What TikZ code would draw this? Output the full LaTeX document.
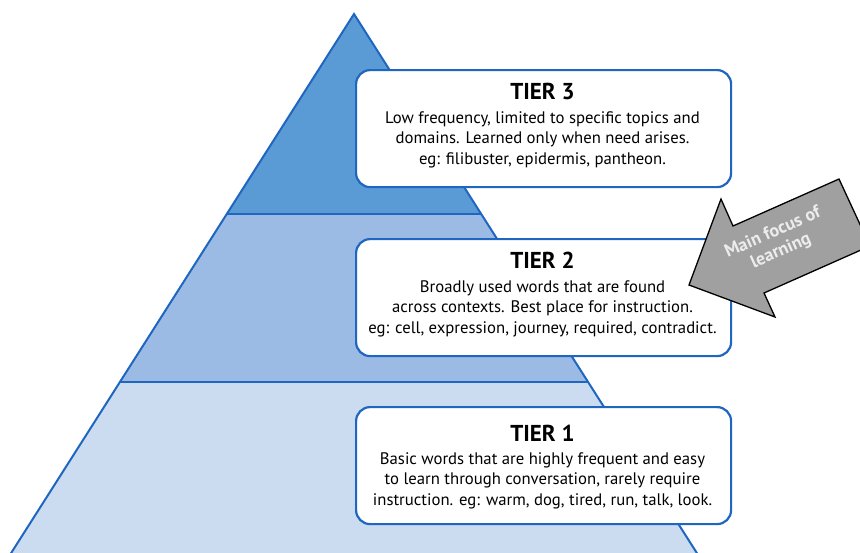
\documentclass[tikz,border=0pt]{standalone}
\usepackage{fontspec}
\setmainfont{PT Sans}
\definecolor{edge}{RGB}{31,102,192}
\definecolor{tierA}{RGB}{91,155,213}
\definecolor{tierB}{RGB}{155,187,228}
\definecolor{tierC}{RGB}{203,219,240}
\definecolor{arrowgray}{RGB}{160,160,160}
\definecolor{arrowtext}{RGB}{236,236,236}
\begin{document}
\begin{tikzpicture}[x=1pt,y=-1pt,
  tierbox/.style={draw=edge, line width=2.2pt, fill=white, rounded corners=14pt,
    minimum width=375pt, minimum height=117pt, anchor=north west, inner sep=0pt},
  tiertitle/.style={anchor=base, inner sep=0pt, font=\fontsize{23}{23}\selectfont\bfseries},
  tiertext/.style={anchor=base, align=center, inner sep=0pt, font=\fontsize{16.7}{20.5}\selectfont},
  outline/.style={draw=edge, line width=2pt}
]
\useasboundingbox (0,0) rectangle (860,552);
\clip (0,0) rectangle (860,552);
% pyramid
\coordinate (apex) at (354,14);
\coordinate (L1) at (226.8,214); \coordinate (R1) at (481.2,214);
\coordinate (L2) at (120,382);   \coordinate (R2) at (588,382);
\coordinate (L3) at (6.7,560);   \coordinate (R3) at (701.3,560);
\fill[tierA] (apex) -- (R1) -- (L1) -- cycle;
\fill[tierB] (L1) -- (R1) -- (R2) -- (L2) -- cycle;
\fill[tierC] (L2) -- (R2) -- (R3) -- (L3) -- cycle;
\draw[outline, line join=miter] (L3) -- (apex) -- (R3);
\draw[outline] (L1) -- (R1) (L2) -- (R2);
% boxes
\node[tierbox] (t3) at (355,69) {};
\node[tierbox] (t2) at (355,238) {};
\node[tierbox] (t1) at (355,406) {};
\node[tiertitle] (t3title) at (542.5,99) {TIER 3};
\node[tiertext] (t3body) at (542.5,164) {Low frequency, limited to specific topics and\\domains. Learned only when need arises.\\eg: filibuster, epidermis, pantheon.};
\node[tiertitle] (t2title) at (542.5,268) {TIER 2};
\node[tiertext] (t2body) at (542.5,333) {Broadly used words that are found\\across contexts. Best place for instruction.\\eg: cell, expression, journey, required, contradict.};
\node[tiertitle] (t1title) at (542.5,441) {TIER 1};
\node[tiertext] (t1body) at (542.5,505) {Basic words that are highly frequent and easy\\to learn through conversation, rarely require\\instruction. eg: warm, dog, tired, run, talk, look.};
% arrow
\draw[black, line width=1.3pt, fill=arrowgray, line join=miter]
  (689,285) -- (721,199) -- (733,226) -- (839,179) -- (870,246) -- (764,293) -- (775,317) -- cycle;
\node[rotate=24, text=arrowtext, align=center, inner sep=0pt,
  font=\fontsize{18}{20}\selectfont\bfseries] (focus) at (777,242) {Main focus of\\learning};
\end{tikzpicture}
\end{document}
